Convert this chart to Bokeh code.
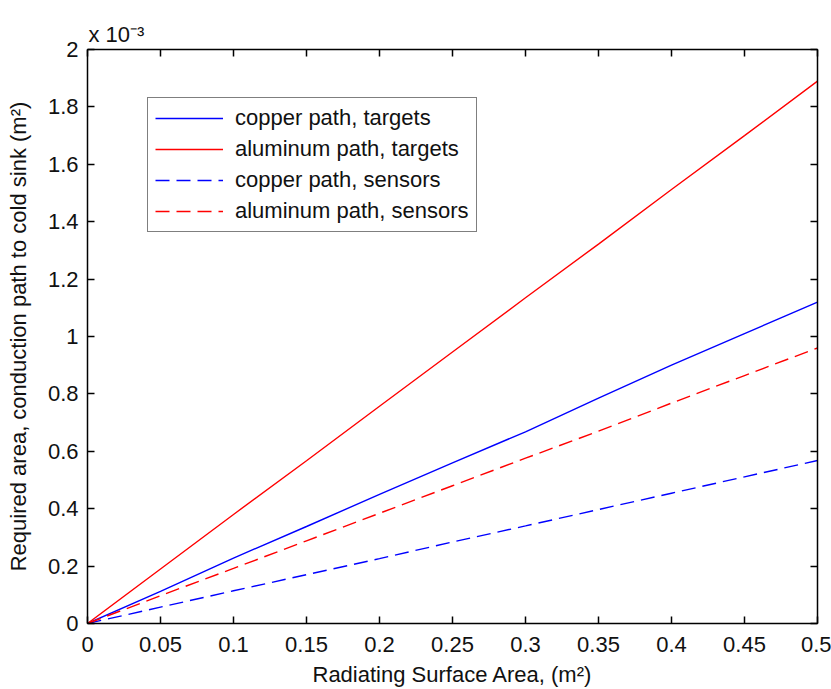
from bokeh.plotting import figure
from bokeh.models import LinearAxis, FixedTicker, Legend, LegendItem, Range1d, Title
from bokeh.embed import file_html
from bokeh.resources import INLINE

# Data (y in units of 1e-3 m^2)
area = [0, 0.05, 0.10, 0.15, 0.20, 0.25, 0.30, 0.35, 0.40, 0.45, 0.50]
copper_targets = [0, 0.112, 0.228, 0.338, 0.450, 0.560, 0.668, 0.785, 0.900, 1.010, 1.120]
aluminum_targets = [0, 0.190, 0.380, 0.567, 0.757, 0.946, 1.135, 1.322, 1.512, 1.700, 1.890]
copper_sensors = [0, 0.057, 0.114, 0.170, 0.226, 0.284, 0.340, 0.397, 0.454, 0.511, 0.568]
aluminum_sensors = [0, 0.097, 0.192, 0.288, 0.384, 0.480, 0.576, 0.670, 0.768, 0.864, 0.960]

x_ticks = [0, 0.05, 0.1, 0.15, 0.2, 0.25, 0.3, 0.35, 0.4, 0.45, 0.5]
x_tick_labels = ["0", "0.05", "0.1", "0.15", "0.2", "0.25", "0.3", "0.35", "0.4", "0.45", "0.5"]
y_ticks = [0, 0.2, 0.4, 0.6, 0.8, 1.0, 1.2, 1.4, 1.6, 1.8, 2.0]
y_tick_labels = ["0", "0.2", "0.4", "0.6", "0.8", "1", "1.2", "1.4", "1.6", "1.8", "2"]

FONT = "Liberation Sans"
FS = "22px"
TXT = "#111111"

p = figure(width=831, height=689, output_backend="svg", toolbar_location=None,
           x_range=Range1d(0, 0.5), y_range=Range1d(0, 2),
           min_border_left=87, min_border_right=14, min_border_top=49, min_border_bottom=66,
           background_fill_color="white", border_fill_color="white",
           title=Title(text="x 10\u207b\u00b3", align="left", offset=1, standoff=5,
                       text_font=FONT, text_font_size=FS, text_font_style="normal",
                       text_color=TXT))
p.xgrid.visible = False
p.ygrid.visible = False
p.outline_line_color = "black"
p.outline_line_width = 1

def style_axis(ax, ticks, labels, show_labels=True):
    ax.ticker = FixedTicker(ticks=ticks)
    if show_labels:
        ax.major_label_overrides = {t: l for t, l in zip(ticks, labels)}
        ax.major_label_text_font_size = FS
    else:
        ax.major_label_overrides = {t: "" for t in ticks}
        ax.major_label_text_font_size = "1px"
        ax.major_label_standoff = 0
    ax.major_tick_in = 7
    ax.major_tick_out = 0
    ax.minor_tick_in = 0
    ax.minor_tick_out = 0
    ax.axis_line_color = "black"
    ax.axis_line_width = 1.5
    ax.major_tick_line_color = "black"
    ax.major_tick_line_width = 1.5
    ax.major_label_text_font = FONT
    ax.major_label_text_color = TXT
    ax.axis_label_text_font = FONT
    ax.axis_label_text_font_size = FS
    ax.axis_label_text_font_style = "normal"
    ax.axis_label_text_color = TXT

xa = p.xaxis[0]
ya = p.yaxis[0]
style_axis(xa, x_ticks, x_tick_labels)
style_axis(ya, y_ticks, y_tick_labels)
xa.major_label_standoff = 13
xa.axis_label = "Radiating Surface Area, (m\u00b2)"
xa.axis_label_standoff = 7
ya.major_label_standoff = 9
ya.axis_label = "Required area, conduction path to cold sink (m\u00b2)"
ya.axis_label_standoff = 14

top = LinearAxis()
style_axis(top, x_ticks, x_tick_labels, show_labels=False)
p.add_layout(top, "above")
right = LinearAxis()
style_axis(right, y_ticks, y_tick_labels, show_labels=False)
p.add_layout(right, "right")

r1 = p.line(area, copper_targets, line_color="#0000ff", line_width=1.4)
r2 = p.line(area, aluminum_targets, line_color="#ff0000", line_width=1.4)
r3 = p.line(area, copper_sensors, line_color="#0000ff", line_width=1.4, line_dash="14 7")
r4 = p.line(area, aluminum_sensors, line_color="#ff0000", line_width=1.4, line_dash="14 7")

legend = Legend(items=[
    LegendItem(label="copper path, targets", renderers=[r1]),
    LegendItem(label="aluminum path, targets", renderers=[r2]),
    LegendItem(label="copper path, sensors", renderers=[r3]),
    LegendItem(label="aluminum path, sensors", renderers=[r4]),
], location=(60, 391))
legend.label_text_font = FONT
legend.label_text_font_size = FS
legend.label_text_color = TXT
legend.glyph_width = 68
legend.glyph_height = 22
legend.label_height = 22
legend.label_standoff = 12
legend.spacing = 5
legend.padding = 7
legend.margin = 0
legend.border_line_color = "black"
legend.border_line_width = 1
legend.background_fill_color = "white"
legend.background_fill_alpha = 1
p.add_layout(legend)

open("out.html", "w").write(file_html(p, INLINE))
